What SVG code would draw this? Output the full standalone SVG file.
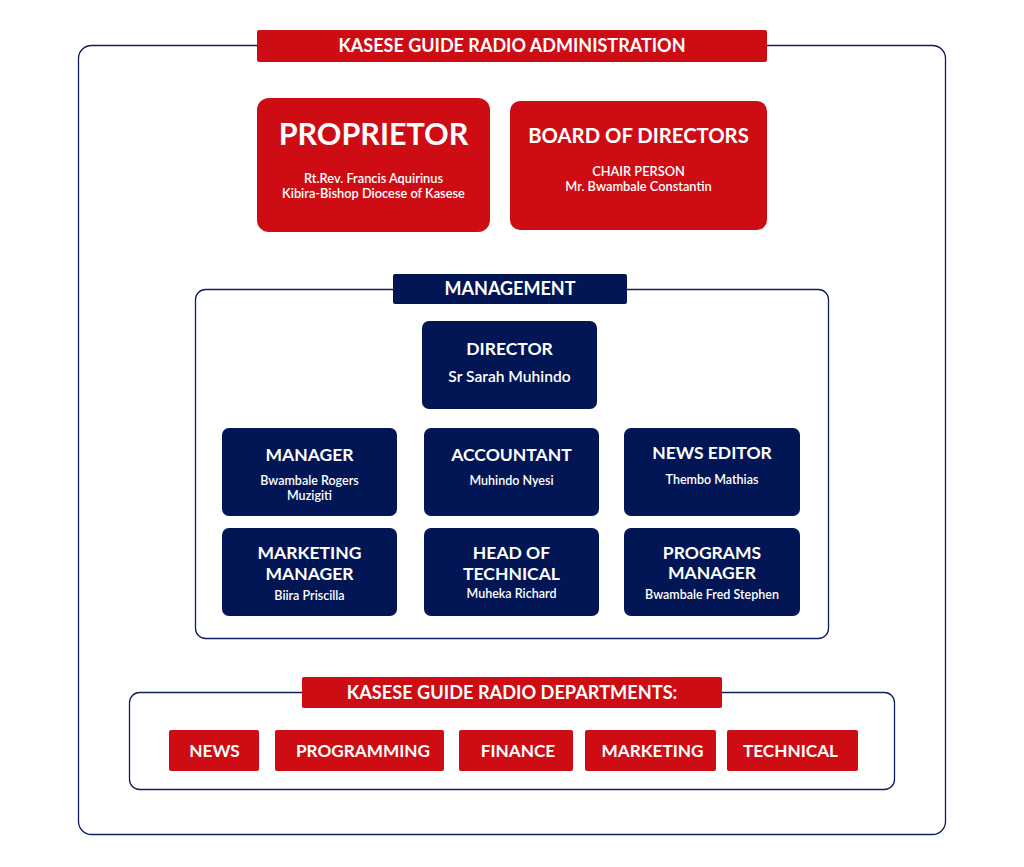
<svg xmlns="http://www.w3.org/2000/svg" width="1024" height="867" viewBox="0 0 1024 867">
<style>
.frame{fill:#fff;stroke:#0e1d5c;stroke-width:1.3}
.red{fill:#ce0c14}
.navy{fill:#021655}
text{font-family:Lato,"Open Sans","Liberation Sans",sans-serif;fill:#fff;text-anchor:middle}
.h{font-weight:700}
.t{font-weight:700;font-size:17.5px}
.s{font-weight:600;font-size:12.5px}
.r{font-weight:600;font-size:12.8px}
.d{font-weight:700;font-size:17.2px}
</style>
<rect width="1024" height="867" fill="#fff"/>
<g id="admin-frame">
<rect class="frame" x="78.5" y="45.5" width="867" height="789" rx="13"/>
<rect class="red" x="257" y="30" width="510" height="32" rx="2"/>
<text class="h" x="512" y="52" font-size="18">KASESE GUIDE RADIO ADMINISTRATION</text>
</g>
<g id="proprietor">
<rect class="red" x="257" y="98" width="233" height="134" rx="12"/>
<text class="h" x="373.5" y="145" font-size="30.5">PROPRIETOR</text>
<text class="r" x="373.5" y="183">Rt.Rev. Francis Aquirinus</text>
<text class="r" x="373.5" y="198">Kibira-Bishop Diocese of Kasese</text>
</g>
<g id="board">
<rect class="red" x="510" y="101" width="257" height="129" rx="10"/>
<text class="h" x="638.5" y="143" font-size="20.3">BOARD OF DIRECTORS</text>
<text class="r" x="638.5" y="176">CHAIR PERSON</text>
<text class="r" x="638.5" y="191">Mr. Bwambale Constantin</text>
</g>
<g id="management-frame">
<rect class="frame" x="195.5" y="289.5" width="633" height="349" rx="10"/>
<rect class="navy" x="393" y="274" width="234" height="30" rx="2"/>
<text class="h" x="510" y="295" font-size="18">MANAGEMENT</text>
</g>
<g id="director">
<rect class="navy" x="422" y="321" width="175" height="88" rx="7"/>
<text class="t" x="509.5" y="355">DIRECTOR</text>
<text x="509.5" y="382" font-size="15.6" font-weight="600">Sr Sarah Muhindo</text>
</g>
<g id="manager">
<rect class="navy" x="222" y="428" width="175" height="88" rx="7"/>
<text class="t" x="309.5" y="461">MANAGER</text>
<text class="s" x="309.5" y="485">Bwambale Rogers</text>
<text class="s" x="309.5" y="500">Muzigiti</text>
</g>
<g id="accountant">
<rect class="navy" x="424" y="428" width="175" height="88" rx="7"/>
<text class="t" x="511.5" y="461">ACCOUNTANT</text>
<text class="s" x="511.5" y="485">Muhindo Nyesi</text>
</g>
<g id="news-editor">
<rect class="navy" x="624" y="428" width="176" height="88" rx="7"/>
<text class="t" x="712" y="459">NEWS EDITOR</text>
<text class="s" x="712" y="484">Thembo Mathias</text>
</g>
<g id="marketing-manager">
<rect class="navy" x="222" y="528" width="175" height="88" rx="7"/>
<text class="t" x="309.5" y="559">MARKETING</text>
<text class="t" x="309.5" y="580">MANAGER</text>
<text class="s" x="309.5" y="600">Biira Priscilla</text>
</g>
<g id="head-of-technical">
<rect class="navy" x="424" y="528" width="175" height="88" rx="7"/>
<text class="t" x="511.5" y="559">HEAD OF</text>
<text class="t" x="511.5" y="580">TECHNICAL</text>
<text class="s" x="511.5" y="598">Muheka Richard</text>
</g>
<g id="programs-manager">
<rect class="navy" x="624" y="528" width="176" height="88" rx="7"/>
<text class="t" x="712" y="559">PROGRAMS</text>
<text class="t" x="712" y="579">MANAGER</text>
<text class="s" x="712" y="599">Bwambale Fred Stephen</text>
</g>
<g id="departments-frame">
<rect class="frame" x="129.5" y="692.5" width="765" height="97" rx="10"/>
<rect class="red" x="302" y="677" width="420" height="31" rx="2"/>
<text class="h" x="512" y="699" font-size="18.2">KASESE GUIDE RADIO DEPARTMENTS:</text>
</g>
<g id="dept-news">
<rect class="red" x="169" y="730" width="90" height="41" rx="2"/>
<text class="d" x="214.5" y="757">NEWS</text>
</g>
<g id="dept-programming">
<rect class="red" x="275" y="730" width="169" height="41" rx="2"/>
<text class="d" x="363" y="757">PROGRAMMING</text>
</g>
<g id="dept-finance">
<rect class="red" x="459" y="730" width="114" height="41" rx="2"/>
<text class="d" x="518" y="757">FINANCE</text>
</g>
<g id="dept-marketing">
<rect class="red" x="585" y="730" width="131" height="41" rx="2"/>
<text class="d" x="652.5" y="757">MARKETING</text>
</g>
<g id="dept-technical">
<rect class="red" x="727" y="730" width="131" height="41" rx="2"/>
<text class="d" x="790.5" y="757">TECHNICAL</text>
</g>
<g id="connectors"></g>
</svg>
